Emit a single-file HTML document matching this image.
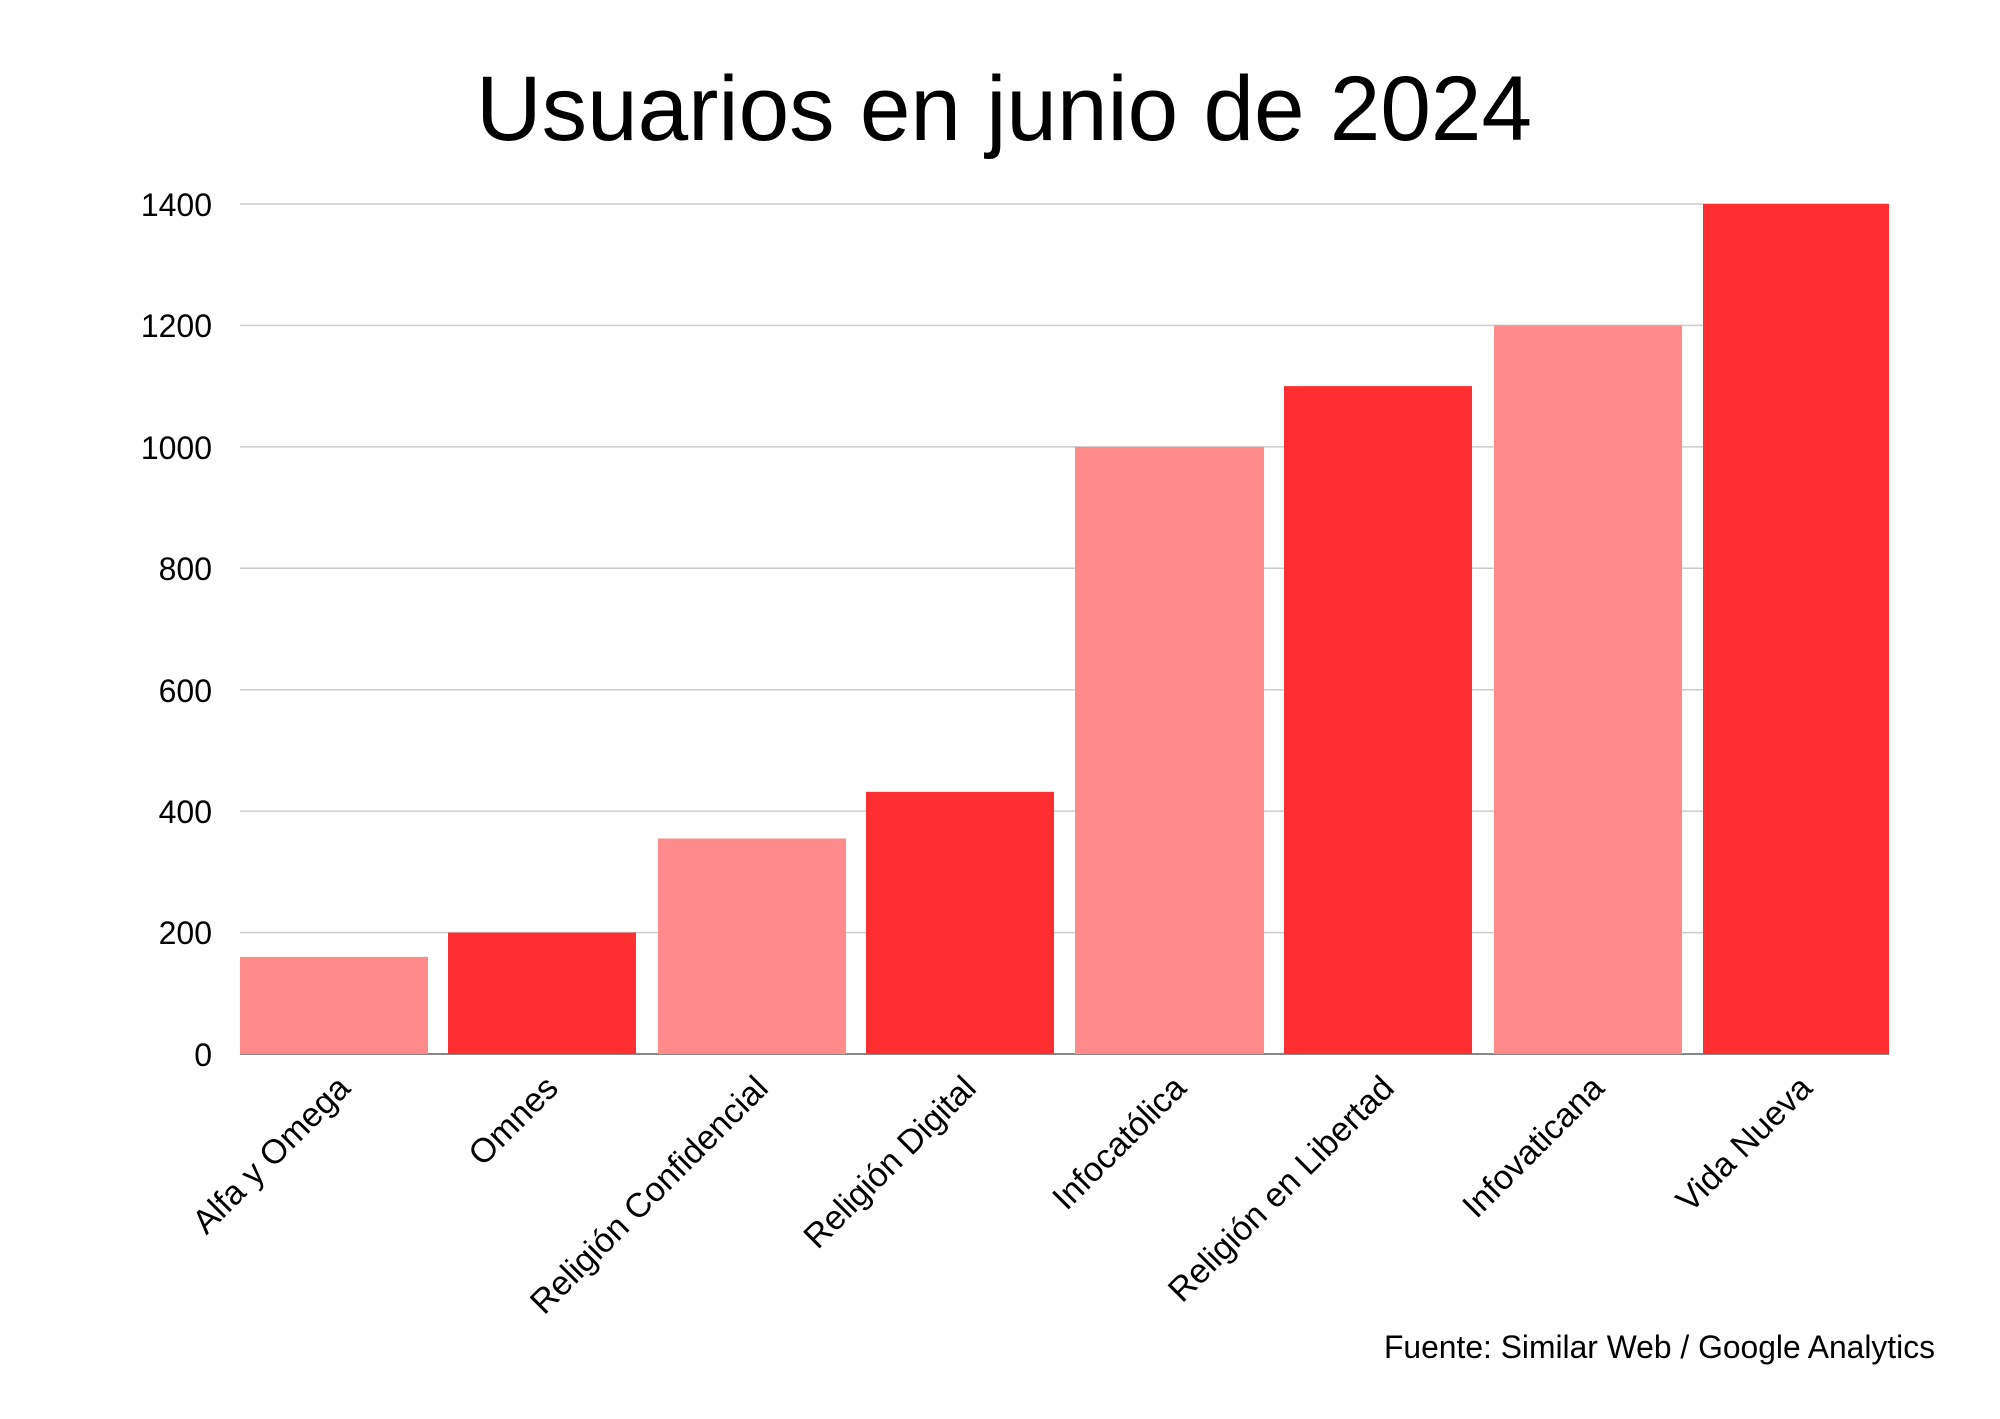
<!DOCTYPE html>
<html><head><meta charset="utf-8"><style>html,body{margin:0;padding:0;background:#fff}</style></head>
<body>
<svg width="2000" height="1414" viewBox="0 0 2000 1414" xmlns="http://www.w3.org/2000/svg" font-family="Liberation Sans, DejaVu Sans, sans-serif">
<rect width="2000" height="1414" fill="#fff"/>
<text x="1004" y="140" font-size="92" text-anchor="middle" textLength="1056" lengthAdjust="spacingAndGlyphs" fill="#000">Usuarios en junio de 2024</text>
<g stroke="#cccccc" stroke-width="1.5">
<line x1="240" x2="1889" y1="204" y2="204"/>
<line x1="240" x2="1889" y1="325.4" y2="325.4"/>
<line x1="240" x2="1889" y1="446.9" y2="446.9"/>
<line x1="240" x2="1889" y1="568.3" y2="568.3"/>
<line x1="240" x2="1889" y1="689.7" y2="689.7"/>
<line x1="240" x2="1889" y1="811.1" y2="811.1"/>
<line x1="240" x2="1889" y1="932.6" y2="932.6"/>
</g>
<line x1="240" x2="1889" y1="1054" y2="1054" stroke="#888" stroke-width="2"/>
<g font-size="32" text-anchor="end" fill="#000">
<text x="212" y="216">1400</text>
<text x="212" y="337">1200</text>
<text x="212" y="459">1000</text>
<text x="212" y="580">800</text>
<text x="212" y="702">600</text>
<text x="212" y="823">400</text>
<text x="212" y="944">200</text>
<text x="212" y="1066">0</text>
</g>
<g>
<rect x="240" y="956.9" width="188" height="97.1" fill="#FF8A8A"/>
<rect x="448" y="932.6" width="188" height="121.4" fill="#FF2E31"/>
<rect x="658" y="838.5" width="188" height="215.5" fill="#FF8A8A"/>
<rect x="866" y="791.8" width="188" height="262.2" fill="#FF2E31"/>
<rect x="1075" y="446.9" width="189" height="607.1" fill="#FF8A8A"/>
<rect x="1284" y="386.1" width="188" height="667.9" fill="#FF2E31"/>
<rect x="1494" y="325.4" width="188" height="728.6" fill="#FF8A8A"/>
<rect x="1703" y="204" width="186" height="850" fill="#FF2E31"/>
</g>
<g font-size="34" text-anchor="end" fill="#000">
<text transform="translate(352,1090) rotate(-45)">Alfa y Omega</text>
<text transform="translate(560,1090) rotate(-45)">Omnes</text>
<text transform="translate(770,1090) rotate(-45)">Religión Confidencial</text>
<text transform="translate(978,1090) rotate(-45)">Religión Digital</text>
<text transform="translate(1188,1090) rotate(-45)">Infocatólica</text>
<text transform="translate(1396,1090) rotate(-45)">Religión en Libertad</text>
<text transform="translate(1606,1090) rotate(-45)">Infovaticana</text>
<text transform="translate(1814,1090) rotate(-45)">Vida Nueva</text>
</g>
<text x="1935" y="1358" font-size="32" text-anchor="end" textLength="551" lengthAdjust="spacingAndGlyphs" fill="#000">Fuente: Similar Web / Google Analytics</text>
</svg>
</body></html>
